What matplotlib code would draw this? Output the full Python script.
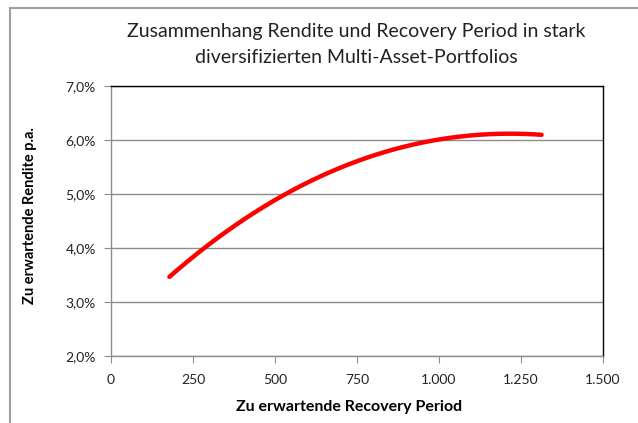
import numpy as np
import matplotlib.pyplot as plt
from matplotlib.lines import Line2D
from matplotlib.ticker import FuncFormatter

plt.rcParams['font.family'] = ['Lato', 'DejaVu Sans']

# Kurve: Recovery Period vs. Rendite
recovery = [178, 292, 393, 500, 627, 749, 881, 998, 1084, 1186, 1247, 1313]
rendite = [3.47, 4.02, 4.49, 4.89, 5.29, 5.61, 5.85, 6.00, 6.08, 6.12, 6.12, 6.09]

x_ticks = [0, 250, 500, 750, 1000, 1250, 1500]
y_ticks = [2, 3, 4, 5, 6, 7]

fig = plt.figure(figsize=(6.38, 4.23), dpi=100)
ax = fig.add_axes([0.174, 0.1584, 0.771, 0.6383])

coef = np.polyfit(recovery, rendite, 3)
xs = np.linspace(recovery[0], recovery[-1], 200)
ax.plot(xs, np.polyval(coef, xs), color='#ff0000', lw=3.2, solid_capstyle='round')

ax.set_xlim(0, 1500)
ax.set_ylim(2, 7)
ax.set_xticks(x_ticks)
ax.set_yticks(y_ticks)
ax.xaxis.set_major_formatter(FuncFormatter(lambda v, p: f'{int(v):,}'.replace(',', '.')))
ax.yaxis.set_major_formatter(FuncFormatter(lambda v, p: f'{v:.1f}%'.replace('.', ',')))
ax.grid(axis='y', color='#8c8c8c', lw=1)
ax.set_axisbelow(True)
for s in ax.spines.values():
    s.set_color('black')
    s.set_linewidth(1)
ax.spines['left'].set_color('#8c8c8c')
ax.spines['bottom'].set_color('#8c8c8c')
ax.tick_params(axis='both', length=5, color='#8c8c8c', labelsize=10, labelcolor='#222222', direction='out')
ax.tick_params(axis='x', pad=8)
ax.tick_params(axis='y', pad=6)

fig.text(0.558, 0.925, 'Zusammenhang Rendite und Recovery Period in stark',
         ha='center', va='center', fontsize=14, color='#222222')
fig.text(0.558, 0.865, 'diversifizierten Multi-Asset-Portfolios',
         ha='center', va='center', fontsize=14, color='#222222')
fig.text(0.547, 0.038, 'Zu erwartende Recovery Period', ha='center', va='center',
         fontsize=11.5, fontweight='bold', color='black')
fig.text(0.047, 0.49, 'Zu erwartende Rendite p.a.', ha='center', va='center',
         rotation=90, fontsize=10.5, fontweight='bold', color='black')

# Rahmen des Diagrammbereichs
fig.add_artist(Line2D([10 / 638, 10 / 638], [0, 1 - 8 / 423], transform=fig.transFigure, color='#a0a0a0', lw=1.5))
fig.add_artist(Line2D([10 / 638, 1], [1 - 8 / 423, 1 - 8 / 423], transform=fig.transFigure, color='#a0a0a0', lw=1.5))

fig.savefig('out.png', dpi=100)
